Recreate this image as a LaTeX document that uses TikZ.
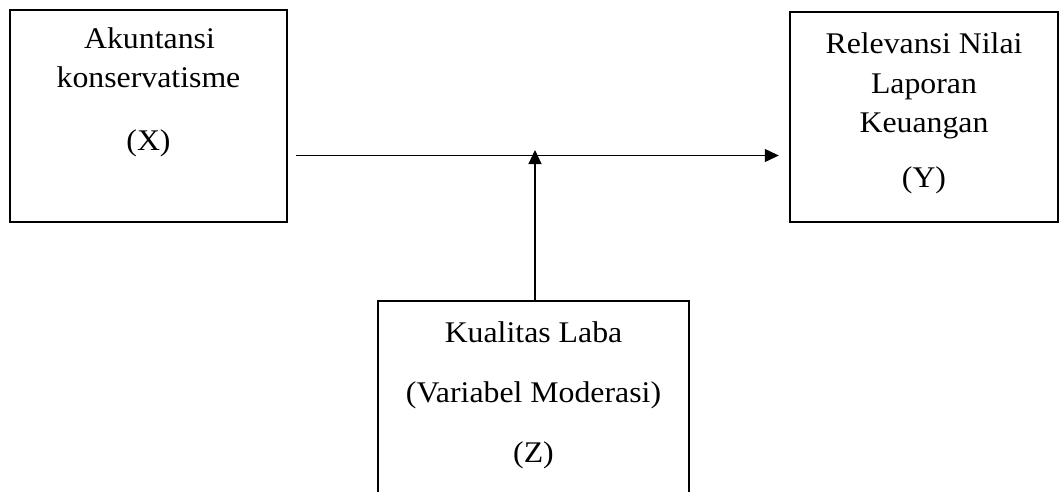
\documentclass[tikz,border=0pt]{standalone}
\usepackage{fontspec}
\setmainfont{Liberation Serif}[FakeStretch=1.06]
\usetikzlibrary{arrows.meta}
\begin{document}
\begin{tikzpicture}[x=1pt,y=-1pt,
  box/.style={draw,line width=2.4pt,inner sep=0pt},
  lbl/.style={anchor=base,inner sep=0pt,font=\fontsize{30}{33}\selectfont},
  conn/.style={line width=1.1pt,-{Triangle[length=14pt,width=13pt]}}]
\useasboundingbox (0,0) rectangle (1061,491);
\clip (0,0) rectangle (1061,491);
\node[box,minimum width=277pt,minimum height=212pt] (X) at (148.5,116) {};
\node[box,minimum width=268pt,minimum height=210pt] (Y) at (924,117) {};
\node[box,minimum width=311pt,minimum height=219pt] (Z) at (533.5,410.5) {};
\node[lbl] (x1) at (149.5,48.5) {Akuntansi};
\node[lbl] (x2) at (148.5,87) {konservatisme};
\node[lbl] (x3) at (148.5,150) {(X)};
\node[lbl] (y1) at (924,53) {Relevansi Nilai};
\node[lbl] (y2) at (924,93) {Laporan};
\node[lbl] (y3) at (924,132) {Keuangan};
\node[lbl] (y4) at (924,187) {(Y)};
\node[lbl] (z1) at (533.5,342) {Kualitas Laba};
\node[lbl] (z2) at (533.5,402) {(Variabel Moderasi)};
\node[lbl] (z3) at (533.5,462) {(Z)};
\coordinate (s) at (296,155.5);
\coordinate (m) at (535,150);
\draw[conn,shorten >=10pt] (s) -- (s -| Y.west);
\draw[conn] (m |- Z.north) -- (m);
\end{tikzpicture}
\end{document}
